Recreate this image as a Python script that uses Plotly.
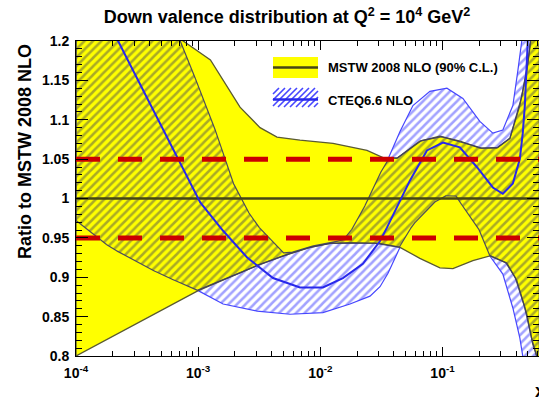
import numpy as np
import plotly.graph_objects as go

# ---------------- data ----------------
# MSTW 2008 NLO 90% C.L. band (ratio to MSTW 2008 NLO central)
mstw_up_x = [1e-4, 5e-4, 7.54e-4, 1.26e-3, 2.2e-3, 3.21e-3, 4.42e-3, 6.82e-3, 0.0127, 0.0241,
             0.0326, 0.0424, 0.0653, 0.0953, 0.1387, 0.2022, 0.2786, 0.3557, 0.4295, 0.4898,
             0.5284, 0.6258]
mstw_up_y = [1.30, 1.22, 1.20, 1.176, 1.116, 1.090, 1.078, 1.074, 1.070, 1.061,
             1.052, 1.051, 1.073, 1.079, 1.073, 1.064, 1.064, 1.076, 1.118, 1.162,
             1.20, 1.32]
mstw_lo_x = [1e-4, 1e-3, 2e-3, 3.04e-3, 4.95e-3, 5.65e-3, 8.24e-3, 0.0120, 0.0175, 0.0308,
             0.0449, 0.0653, 0.0953, 0.1217, 0.1773, 0.2443, 0.3364, 0.4057, 0.4898, 0.5483,
             0.5916, 0.6877]
mstw_lo_y = [0.80, 0.883, 0.903, 0.915, 0.927, 0.930, 0.938, 0.943, 0.944, 0.943,
             0.938, 0.924, 0.912, 0.911, 0.921, 0.927, 0.918, 0.896, 0.853, 0.815,
             0.80, 0.72]
mstw_c_x = [1e-4, 0.7]
mstw_c_y = [1.0, 1.0]

# CTEQ6.6 NLO band and central value (ratio to MSTW 2008 NLO)
cteq_up_x = [1e-4, 7.13e-4, 1.26e-3, 1.93e-3, 2.52e-3, 3.04e-3, 4.1e-3, 4.95e-3, 5.65e-3, 8.24e-3,
             0.0120, 0.0153, 0.0175, 0.0223, 0.0255, 0.0291, 0.0351, 0.0449, 0.0573, 0.0789,
             0.1087, 0.1469, 0.2022, 0.2583, 0.3119, 0.3767, 0.4137, 0.4457, 0.5689, 0.63]
cteq_up_y = [1.53, 1.20, 1.105, 1.02, 0.985, 0.966, 0.944, 0.931, 0.931, 0.939,
             0.944, 0.947, 0.957, 0.985, 1.005, 1.025, 1.047, 1.085, 1.118, 1.136,
             1.140, 1.127, 1.098, 1.083, 1.087, 1.118, 1.162, 1.20, 1.45, 1.70]
cteq_lo_x = [1e-4, 1.9e-4, 4.9e-4, 1e-3, 1.6e-3, 3.04e-3, 5.65e-3, 0.0105, 0.0175, 0.0255,
             0.0308, 0.0358, 0.0449, 0.0562, 0.0692, 0.0900, 0.1087, 0.1312, 0.1524, 0.2022,
             0.2443, 0.3119, 0.3767, 0.4295, 0.4540, 0.63]
cteq_lo_y = [0.972, 0.938, 0.904, 0.883, 0.866, 0.857, 0.853, 0.855, 0.866, 0.876,
             0.888, 0.905, 0.938, 0.965, 0.981, 0.998, 1.004, 1.003, 0.985, 0.959,
             0.927, 0.904, 0.861, 0.823, 0.80, 0.55]
cteq_c_x = [1e-4, 2.22e-4, 6.73e-4, 1.04e-3, 1.6e-3, 2.52e-3, 4.1e-3, 6.82e-3, 0.0105, 0.0153,
            0.0223, 0.0308, 0.0351, 0.0542, 0.0746, 0.1009, 0.1387, 0.1910, 0.2583, 0.3119,
            0.3767, 0.4295, 0.4540, 0.4720, 0.4990, 0.55]
cteq_c_y = [1.305, 1.20, 1.052, 0.995, 0.959, 0.925, 0.899, 0.887, 0.887, 0.899,
            0.917, 0.946, 0.963, 1.023, 1.061, 1.071, 1.065, 1.040, 1.014, 1.006,
            1.019, 1.05, 1.083, 1.118, 1.20, 1.40]

# +-5% reference lines
ref_levels = [1.05, 0.95]
ref_x = [1e-4, 0.7]

x_tickvals = [1e-4, 1e-3, 1e-2, 1e-1]
x_ticktext = ["10<sup>-4</sup>", "10<sup>-3</sup>", "10<sup>-2</sup>", "10<sup>-1</sup>"]
y_tickvals = [0.8, 0.85, 0.9, 0.95, 1.0, 1.05, 1.1, 1.15, 1.2]
y_ticktext = ["0.8", "0.85", "0.9", "0.95", "1", "1.05", "1.1", "1.15", "1.2"]

title_text = "Down valence distribution at Q<sup>2</sup> = 10<sup>4</sup> GeV<sup>2</sup>"
ytitle_text = "Ratio to MSTW 2008 NLO"
legend_labels = ["MSTW 2008 NLO (90% C.L.)", "CTEQ6.6 NLO"]

# ---------------- styles ----------------
FONT = "Liberation Sans"
YELLOW = "#ffff00"
OLIVE = "rgb(70,70,20)"
EDGE = "rgb(90,90,50)"
BLUE = "rgb(40,40,235)"
HATCH_BLUE = "rgb(70,70,255)"
HATCH_DARK = "rgb(85,85,75)"
RED = "rgb(204,0,0)"
HSIZE = 6
HSOLID = 0.42

def band_polygon(ux, uy, lx, ly):
    return list(ux) + list(lx)[::-1] + [ux[0]], list(uy) + list(ly)[::-1] + [uy[0]]

fig = go.Figure()

# CTEQ band (blue hatch)
cx, cy = band_polygon(cteq_up_x, cteq_up_y, cteq_lo_x, cteq_lo_y)
fig.add_trace(go.Scatter(x=cx, y=cy, mode="lines", fill="toself",
                         fillcolor="rgba(0,0,0,0)",
                         fillpattern=dict(shape="/", fgcolor=HATCH_BLUE, bgcolor="rgba(0,0,0,0)",
                                          size=HSIZE, solidity=HSOLID),
                         line=dict(color=HATCH_BLUE, width=1.2), hoverinfo="skip", showlegend=False))

# MSTW band (yellow)
mx, my = band_polygon(mstw_up_x, mstw_up_y, mstw_lo_x, mstw_lo_y)
fig.add_trace(go.Scatter(x=mx, y=my, mode="lines", fill="toself", fillcolor=YELLOW,
                         line=dict(color=EDGE, width=1.3), hoverinfo="skip", showlegend=False))

# Overlap of the two bands (dark hatch over yellow)
lg = np.linspace(-4, np.log10(0.62), 2500)
def on_grid(xs, ys):
    return np.interp(lg, np.log10(xs), ys)
top = np.minimum(on_grid(mstw_up_x, mstw_up_y), on_grid(cteq_up_x, cteq_up_y))
bot = np.maximum(on_grid(mstw_lo_x, mstw_lo_y), on_grid(cteq_lo_x, cteq_lo_y))
mask = top > bot
ox, oy = [], []
i = 0
n = len(lg)
while i < n:
    if mask[i]:
        j = i
        while j < n and mask[j]:
            j += 1
        xs = list(10 ** lg[i:j])
        ox += xs + xs[::-1] + [xs[0], None]
        oy += list(top[i:j]) + list(bot[i:j])[::-1] + [top[i], None]
        i = j
    else:
        i += 1
fig.add_trace(go.Scatter(x=ox, y=oy, mode="lines", fill="toself", fillcolor="rgba(0,0,0,0)",
                         fillpattern=dict(shape="/", fgcolor=HATCH_DARK, bgcolor="rgba(0,0,0,0)",
                                          size=HSIZE, solidity=HSOLID),
                         line=dict(color="rgba(60,60,100,0.9)", width=1.2),
                         hoverinfo="skip", showlegend=False))

# central lines
fig.add_trace(go.Scatter(x=mstw_c_x, y=mstw_c_y, mode="lines",
                         line=dict(color=OLIVE, width=2.5), hoverinfo="skip", showlegend=False))
fig.add_trace(go.Scatter(x=cteq_c_x, y=cteq_c_y, mode="lines",
                         line=dict(color=BLUE, width=2), hoverinfo="skip", showlegend=False))

# red dashed reference lines
for lev in ref_levels:
    fig.add_trace(go.Scatter(x=ref_x, y=[lev] * len(ref_x), mode="lines",
                             line=dict(color=RED, width=5, dash="24px,18px"),
                             hoverinfo="skip", showlegend=False))

# ---------------- layout ----------------
L, R, T, B = 76, 0, 41, 41
W, H = 539, 397
PW, PH = W - L - R, H - T - B

def pp(px, py):
    return (px - L) / PW, (H - B - py) / PH

tick_font = dict(family=FONT, size=14, color="black", weight="bold")

fig.update_layout(
    width=W, height=H,
    margin=dict(l=L, r=R, t=T, b=B, pad=0),
    paper_bgcolor="white", plot_bgcolor="white",
    showlegend=False,
    title=dict(text=title_text, x=287 / W, xref="container", xanchor="center",
               y=1 - 17 / H, yref="container", yanchor="middle",
               font=dict(family=FONT, size=18, color="black", weight="bold")),
)
fig.update_xaxes(type="log", range=[-4, -0.21], showgrid=False, zeroline=False,
                 showline=True, linecolor="black", linewidth=1, mirror="ticks",
                 ticks="inside", ticklen=9, tickwidth=1, tickcolor="black",
                 tickmode="array", tickvals=x_tickvals, ticktext=x_ticktext,
                 tickfont=tick_font, ticklabelstandoff=4,
                 minor=dict(ticks="inside", ticklen=5, tickwidth=1, tickcolor="black",
                            tickvals=[m * 10.0 ** e for e in range(-4, 0) for m in range(2, 10)],
                            showgrid=False))
fig.update_yaxes(range=[0.8, 1.2], showgrid=False, zeroline=False,
                 showline=True, linecolor="black", linewidth=1, mirror="ticks",
                 ticks="inside", ticklen=12, tickwidth=1, tickcolor="black",
                 tickmode="array", tickvals=y_tickvals, ticktext=y_ticktext,
                 tickfont=tick_font, ticklabelstandoff=3,
                 minor=dict(ticks="inside", ticklen=6, tickwidth=1, tickcolor="black",
                            dtick=0.01, showgrid=False))

annots = []
ax_, ay_ = pp(25, 152)
annots.append(dict(text=ytitle_text, x=ax_, y=ay_, xref="paper", yref="paper",
                   textangle=-90, showarrow=False, xanchor="center", yanchor="middle",
                   font=dict(family=FONT, size=18, color="black", weight="bold")))
xx_, xy_ = pp(533, 391)
annots.append(dict(text="x", x=xx_, y=xy_, xref="paper", yref="paper", showarrow=False,
                   xanchor="left", yanchor="middle",
                   font=dict(family=FONT, size=18, color="black", weight="bold")))
for lab, py in zip(legend_labels, [67, 100]):
    tx, ty = pp(326, py)
    annots.append(dict(text=lab, x=tx, y=ty, xref="paper", yref="paper", showarrow=False,
                       xanchor="left", yanchor="middle",
                       font=dict(family=FONT, size=13, color="black", weight="bold")))
fig.update_layout(annotations=annots)

shapes = []
# legend entry 1: yellow box with dark line
x0, y0 = pp(273, 78)
x1, y1 = pp(318, 57)
shapes.append(dict(type="rect", xref="paper", yref="paper", x0=x0, x1=x1, y0=y0, y1=y1,
                   fillcolor=YELLOW, line=dict(width=0)))
lx0, ly = pp(273, 67.5)
lx1, _ = pp(318, 67.5)
shapes.append(dict(type="line", xref="paper", yref="paper", x0=lx0, x1=lx1, y0=ly, y1=ly,
                   line=dict(color=OLIVE, width=2.5)))
# legend entry 2: blue hatch with blue line
hx0, hx1, hy0, hy1 = 273, 318, 88, 107
hh = hy1 - hy0
segs = []
c = hx0 - hh
while c < hx1:
    t0 = max(0.0, (hx0 - c) / hh)
    t1 = min(1.0, (hx1 - c) / hh)
    if t1 > t0:
        ax0, ay0 = pp(c + t0 * hh, hy1 - t0 * hh)
        ax1, ay1 = pp(c + t1 * hh, hy1 - t1 * hh)
        segs.append(f"M{ax0:.5f},{ay0:.5f}L{ax1:.5f},{ay1:.5f}")
    c += HSIZE
shapes.append(dict(type="path", xref="paper", yref="paper", path="".join(segs),
                   line=dict(color=HATCH_BLUE, width=1.6)))
bx0, by = pp(273, 99.5)
bx1, _ = pp(318, 99.5)
shapes.append(dict(type="line", xref="paper", yref="paper", x0=bx0, x1=bx1, y0=by, y1=by,
                   line=dict(color=BLUE, width=2.5)))
fig.update_layout(shapes=shapes)

fig.write_html("out.html", config={"displayModeBar": False})
